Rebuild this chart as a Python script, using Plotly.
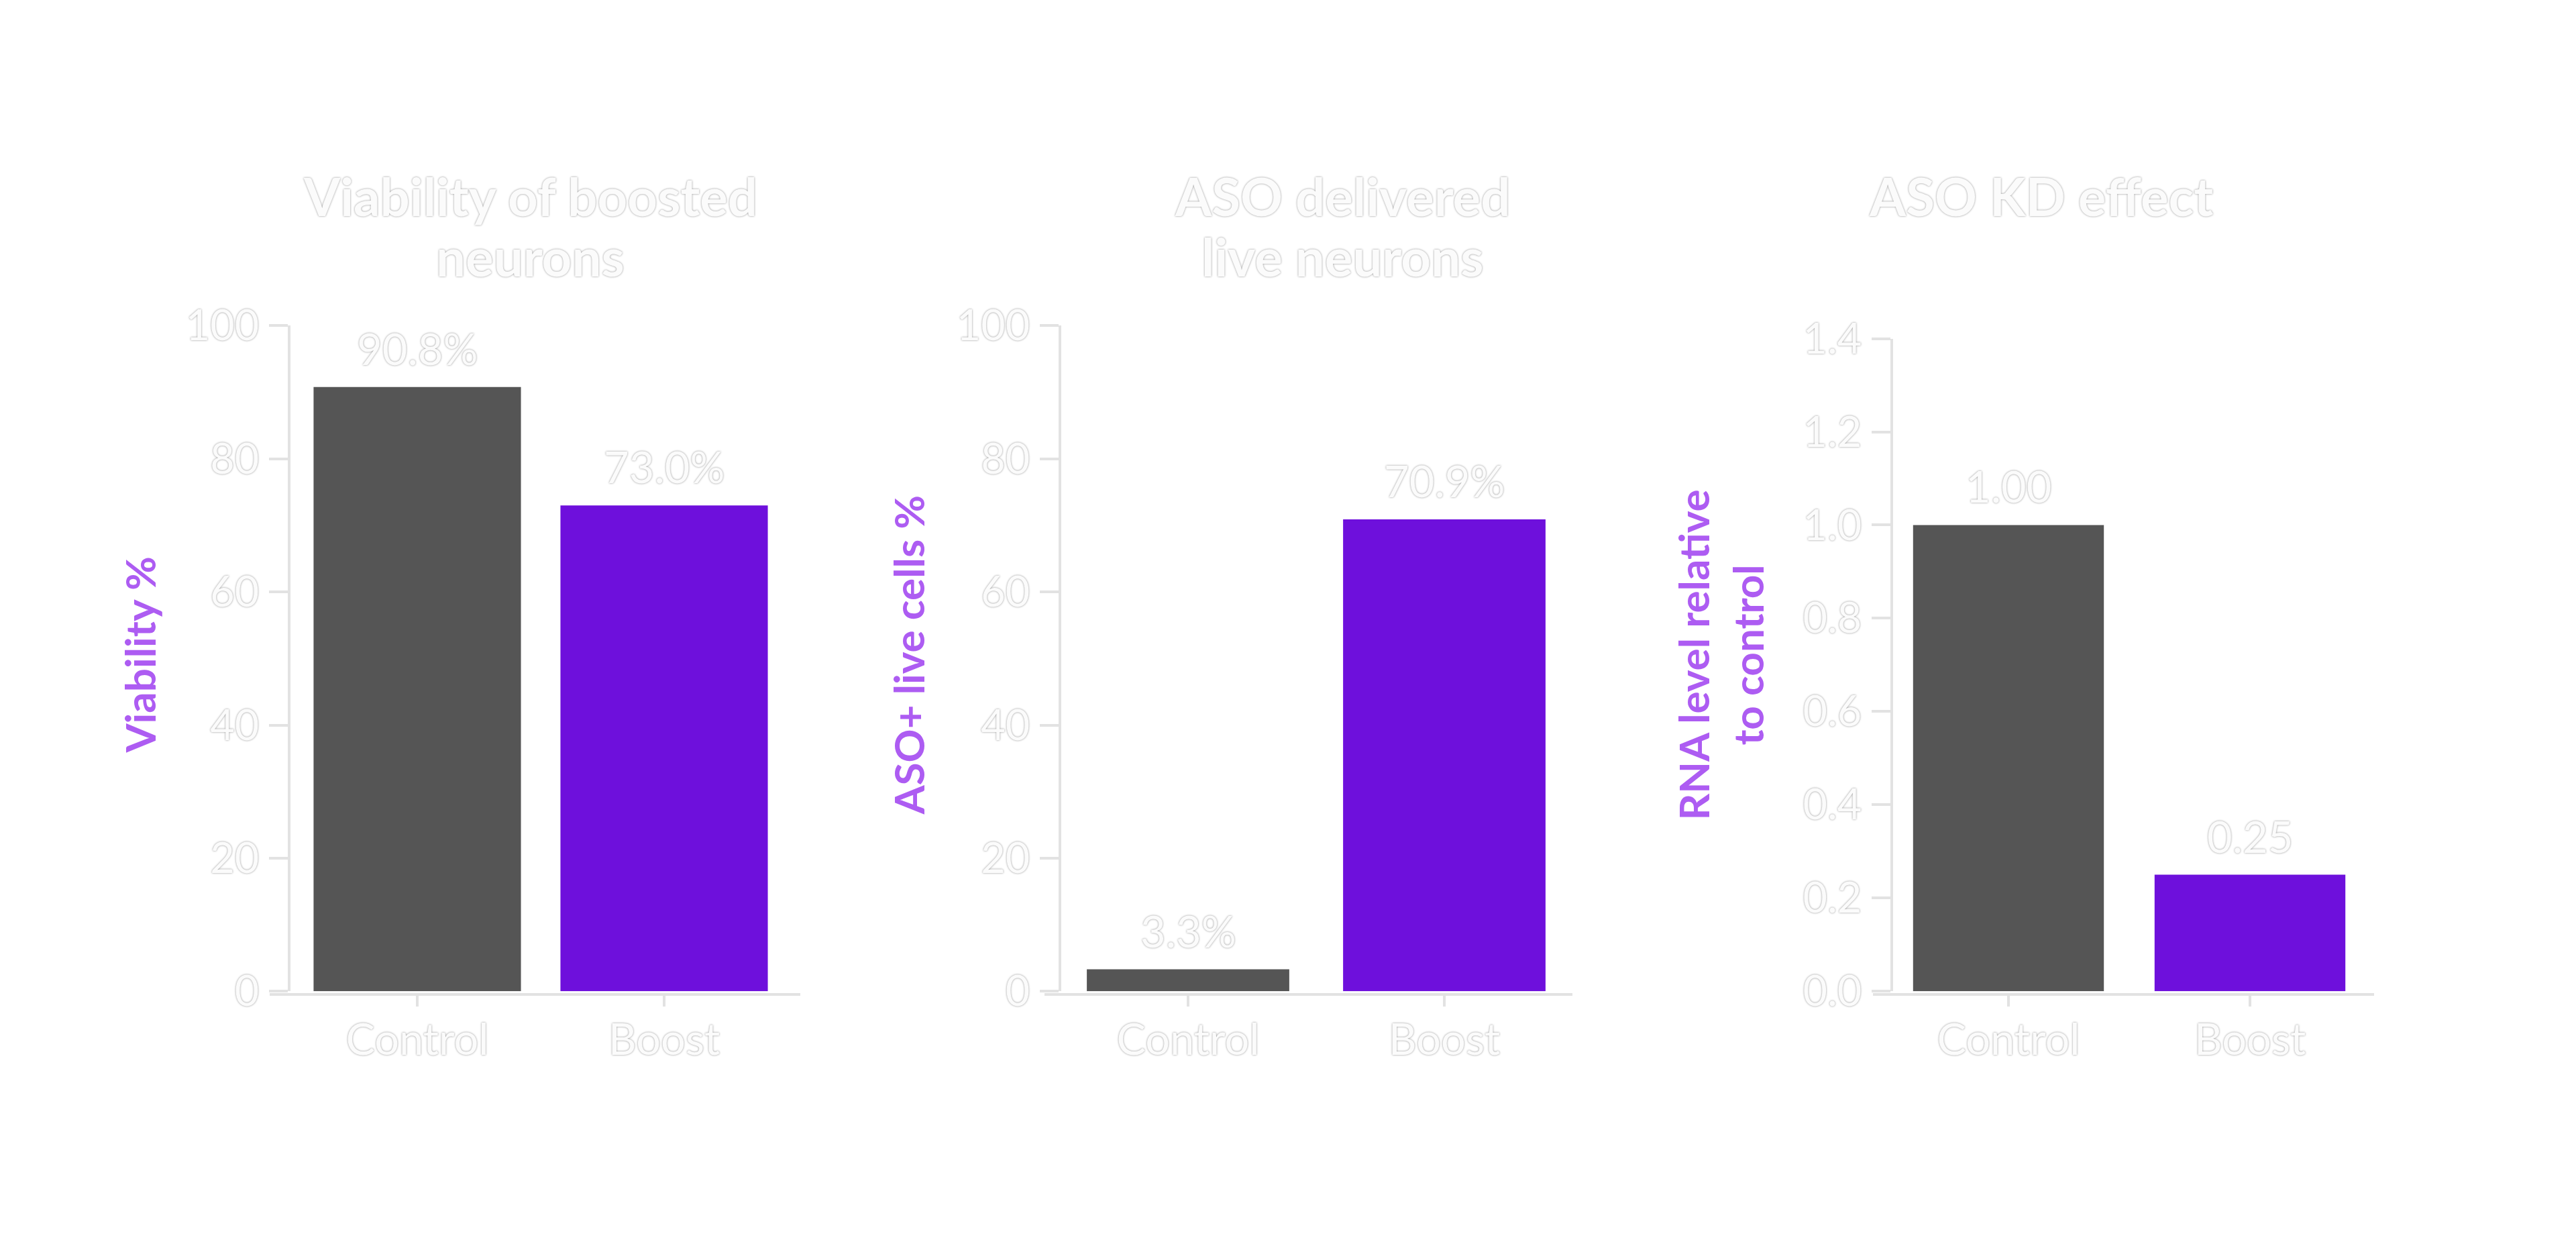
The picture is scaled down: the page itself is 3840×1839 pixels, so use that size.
import plotly.graph_objects as go

# data
groups = ["Control", "Boost"]
viability = [90.8, 73.0]
aso_live = [3.3, 70.9]
rna_level = [1.00, 0.25]

bar_colors = ["#555555", "#6e10dc"]
titles = [["Viability of boosted", "neurons"], ["ASO delivered", "live neurons"], ["ASO KD effect"]]
ytitles = ["Viability %", "ASO+ live cells %", "RNA level relative<br>to control"]
ytick_sets = [[0, 20, 40, 60, 80, 100], [0, 20, 40, 60, 80, 100],
              [0.0, 0.2, 0.4, 0.6, 0.8, 1.0, 1.2, 1.4]]

W, H = 3840, 1839
FONT = "Lato"
WHITE = "#fbfbfb"
SHADOW = "0px 0px 3px rgba(0,0,0,0.45)"
LINE = "#e2e2e2"
PURPLE_TXT = "#ad5cf2"

# page has a small body margin, pull everything back a bit
OFF = 8


def px_x(p):
    return (p - OFF) / W


def px_y(p):
    return (H - p) / H


# per panel: x-line start/end, y-axis x, category centres, y top px, bar width
panels = [
    dict(x0=402, x1=1193, yx=431, c0=622, c1=990, top=456, bw=0.84, yr=[0, 100],
         title_x=790, ytitle_x=208),
    dict(x0=1557, x1=2344, yx=1580, c0=1771, c1=2153, top=456, bw=0.79, yr=[0, 100],
         title_x=2001, ytitle_x=1354),
    dict(x0=2792, x1=3539, yx=2820, c0=2994, c1=3354, top=476, bw=0.79, yr=[0, 1.4],
         title_x=3042, ytitle_x=2565),
]
title_lines_y = [254, 348]
series = [viability, aso_live, rna_level]
labels = [[f"{v:.1f}%" for v in viability],
          [f"{v:.1f}%" for v in aso_live],
          [f"{v:.2f}" for v in rna_level]]

fig = go.Figure()
annotations = []
base_font = dict(family=FONT, color=WHITE, shadow=SHADOW)

for i, (p, vals) in enumerate(zip(panels, series)):
    n = "" if i == 0 else str(i + 1)
    fig.add_trace(go.Bar(
        x=groups, y=vals, width=p["bw"],
        marker=dict(color=bar_colors, line=dict(width=0)),
        xaxis="x" + n, yaxis="y" + n, showlegend=False, hoverinfo="skip",
    ))
    d = p["c1"] - p["c0"]
    xr = [(p["x0"] - p["c0"]) / d, 1 + (p["x1"] - p["c1"]) / d]
    fig.layout["xaxis" + n] = dict(
        domain=[px_x(p["x0"]), px_x(p["x1"])], range=xr,
        anchor="free", position=px_y(1495),
        showline=True, linecolor=LINE, linewidth=4,
        ticks="outside", ticklen=16, tickwidth=4, tickcolor=LINE,
        tickfont=dict(size=65, **base_font), ticklabelstandoff=-6,
        showgrid=False, zeroline=False, fixedrange=True,
    )
    fig.layout["yaxis" + n] = dict(
        domain=[px_y(1490), px_y(p["top"])], range=p["yr"],
        anchor="free", position=px_x(p["yx"]),
        showline=True, linecolor=LINE, linewidth=4,
        ticks="outside", ticklen=28, tickwidth=4, tickcolor=LINE,
        tickvals=ytick_sets[i], tickformat=".1f" if i == 2 else "d",
        tickfont=dict(size=63, **base_font), ticklabelstandoff=2,
        showgrid=False, zeroline=False, fixedrange=True,
    )
    # value labels above bars
    for g, v, t in zip(groups, vals, labels[i]):
        annotations.append(dict(
            x=g, y=v, xref="x" + n, yref="y" + n, text=t, showarrow=False,
            yanchor="middle", yshift=58, font=dict(size=65, **base_font),
        ))
    # panel title, one annotation per line
    for line, ly in zip(titles[i], title_lines_y):
        annotations.append(dict(
            x=px_x(p["title_x"]), y=px_y(ly), xref="paper", yref="paper",
            text="<b>" + line + "</b>", showarrow=False,
            xanchor="center", yanchor="middle",
            font=dict(size=78, **base_font),
        ))
    # y axis title
    annotations.append(dict(
        x=px_x(p["ytitle_x"]), y=px_y(968), xref="paper", yref="paper",
        text="<b>" + ytitles[i] + "</b>", showarrow=False, textangle=-90,
        xanchor="center", yanchor="middle", align="center",
        font=dict(size=62, family=FONT, color=PURPLE_TXT),
    ))

fig.update_layout(
    width=W, height=H,
    margin=dict(l=0, r=0, t=0, b=0),
    paper_bgcolor="white", plot_bgcolor="white",
    annotations=annotations,
    bargap=0.2,
)

fig.write_html("out.html")
